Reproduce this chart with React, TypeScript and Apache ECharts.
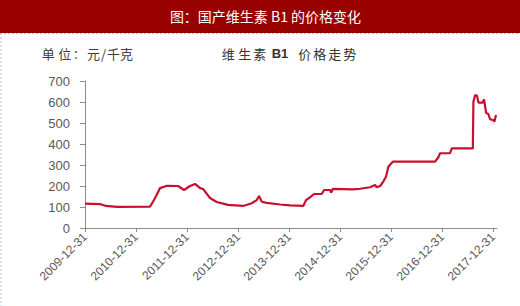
import React, { useEffect, useRef } from "react";
import * as echarts from "echarts";

const title = "图：国产维生素 B1 的价格变化";
const unitChars = ["单", "位", "：", "元", "/", "千", "克"];
const subChars = ["维", "生", "素", "B1", "价", "格", "走", "势"];

const tickDates = [
  "2009-12-31", "2010-12-31", "2011-12-31", "2012-12-31", "2013-12-31",
  "2014-12-31", "2015-12-31", "2016-12-31", "2017-12-31",
];

const dates = [
  "2009-12-31", "2010-04-17", "2010-05-30", "2010-08-17", "2011-04-10",
  "2011-05-02", "2011-05-28", "2011-06-21", "2011-08-10", "2011-10-28",
  "2011-12-10", "2012-01-22", "2012-02-27", "2012-04-03", "2012-04-24",
  "2012-06-13", "2012-07-31", "2012-10-20", "2013-02-05", "2013-04-08",
  "2013-05-14", "2013-05-30", "2013-06-19", "2013-07-24", "2013-10-28",
  "2014-01-07", "2014-04-12", "2014-05-02", "2014-05-30", "2014-06-28",
  "2014-08-22", "2014-09-08", "2014-10-21", "2014-10-28", "2014-11-09",
  "2015-04-06", "2015-05-24", "2015-08-03", "2015-09-08", "2015-09-20",
  "2015-10-14", "2015-11-06", "2015-11-26", "2015-12-12", "2015-12-29",
  "2016-01-13", "2016-11-11", "2016-12-04", "2016-12-16", "2017-02-26",
  "2017-03-10", "2017-08-08", "2017-08-12", "2017-08-24", "2017-09-07",
  "2017-09-17", "2017-10-18", "2017-10-27", "2017-11-11", "2017-11-27",
  "2017-12-09", "2018-01-02", "2018-01-09", "2018-01-21",
];

const prices = [
  116, 114, 105, 101, 102,
  125, 157, 190, 201, 200,
  181, 200, 210, 190, 186,
  143, 124, 110, 105, 118,
  133, 152, 125, 120, 112,
  108, 105, 133, 146, 162,
  162, 181, 181, 168, 186,
  184, 187, 194, 205, 194,
  200, 221, 245, 292, 305,
  316, 316, 337, 356, 356,
  379, 379, 600, 633, 630,
  597, 597, 613, 549, 543,
  518, 514, 506, 538,
];

const axisMin = "2009-12-31";
const axisMax = "2018-01-28";

const DAY = 86400000;
const utc = (s: string) => {
  const [y, m, d] = s.split("-").map(Number);
  return Date.UTC(y, m - 1, d);
};
// days elapsed since the axis start
const dayNo = (s: string) => Math.round((utc(s) - utc(axisMin)) / DAY);
const fmt = (n: number) => {
  const d = new Date(utc(axisMin) + Math.round(n) * DAY);
  const p = (k: number) => (k < 10 ? "0" + k : "" + k);
  return d.getUTCFullYear() + "-" + p(d.getUTCMonth() + 1) + "-" + p(d.getUTCDate());
};

const unitX = [41.7, 58.3, 73, 87, 101, 107, 120];
const subX = [221.7, 238.3, 253.3, 271.7, 298.3, 313.3, 328.3, 343.3];

export default function App() {
  const ref = useRef<HTMLDivElement>(null);
  useEffect(() => {
    document.body.style.margin = "0";
    const chart = echarts.init(ref.current!, null, { renderer: "svg" });
    const cjk = "'Noto Sans CJK SC', sans-serif";
    const graphics: any[] = [
      { type: "rect", shape: { x: 0, y: 0, width: 520, height: 33 }, style: { fill: "#990000" }, silent: true },
      {
        type: "text", x: 265.5, y: 16,
        style: { text: title, fill: "#ffffff", font: "14px " + cjk, textAlign: "center", textVerticalAlign: "middle" },
      },
      { type: "line", shape: { x1: 0, y1: 33.5, x2: 520, y2: 33.5 }, style: { stroke: "#a9c1e8", lineWidth: 1, lineDash: [2, 2] } },
      { type: "line", shape: { x1: 1, y1: 33, x2: 1, y2: 306 }, style: { stroke: "#a9c1e8", lineWidth: 1, lineDash: [2, 2] } },
    ];
    unitChars.forEach((c, i) => {
      const isColon = c === "：";
      graphics.push({
        type: "text", x: unitX[i], y: 53,
        style: {
          text: c, fill: "#404040",
          font: (isColon ? "12px " : "13px ") + cjk,
          textVerticalAlign: "middle",
        },
      });
    });
    subChars.forEach((c, i) => {
      const bold = c === "B1";
      graphics.push({
        type: "text", x: subX[i], y: 53,
        style: {
          text: c, fill: "#333333",
          font: bold ? "bold 13px 'Liberation Sans', Arial, sans-serif" : "13px " + cjk,
          textVerticalAlign: "middle",
        },
      });
    });

    const tickVals = tickDates.map(dayNo);
    chart.setOption({
      animation: false,
      backgroundColor: "#ffffff",
      grid: { left: 85, right: 23, top: 81, bottom: 78 },
      graphic: graphics,
      xAxis: {
        type: "value",
        min: 0,
        max: dayNo(axisMax),
        axisLine: { lineStyle: { color: "#8c8c8c", width: 1 } },
        axisTick: { show: true, length: 4, lineStyle: { color: "#8c8c8c" }, customValues: tickVals },
        axisLabel: {
          customValues: tickVals,
          formatter: (v: number) => fmt(v),
          rotate: 45,
          margin: 7,
          color: "#595959",
          fontSize: 12,
          fontFamily: "'Liberation Sans', Arial, sans-serif",
        },
        splitLine: { show: false },
      },
      yAxis: {
        type: "value",
        min: 0,
        max: 700,
        interval: 100,
        axisLine: { show: true, lineStyle: { color: "#8c8c8c", width: 1 } },
        axisTick: { show: true, length: 5, lineStyle: { color: "#8c8c8c" } },
        axisLabel: {
          margin: 15,
          color: "#595959",
          fontSize: 13,
          fontFamily: "'Liberation Sans', Arial, sans-serif",
        },
        splitLine: { show: false },
      },
      series: [
        {
          type: "line",
          data: dates.map((d, i) => [dayNo(d), prices[i]]),
          symbol: "none",
          lineStyle: { color: "#c8102e", width: 2.2 },
        },
      ],
    });
    return () => chart.dispose();
  }, []);
  return <div ref={ref} style={{ width: 520, height: 306 }} />;
}
